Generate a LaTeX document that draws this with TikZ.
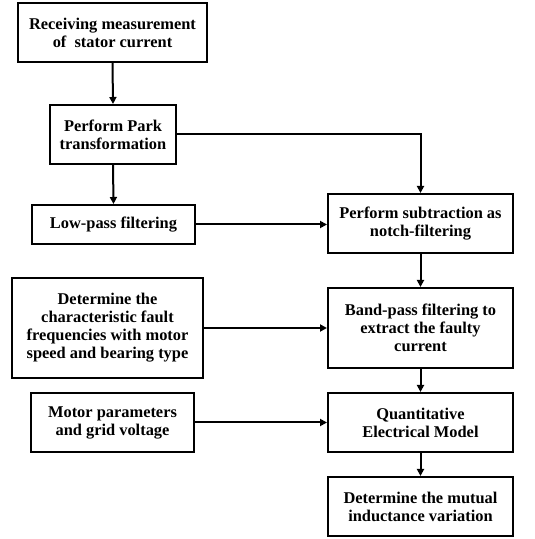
\documentclass[tikz,border=0pt]{standalone}
\usepackage{fontspec}
\setmainfont{Liberation Serif}
\usetikzlibrary{arrows.meta}

\tikzset{
  stepbox/.style={draw=black, line width=2pt, align=center, inner sep=2pt,
    font=\bfseries\fontsize{16.4pt}{18pt}\selectfont},
  flow/.style={line width=2pt, -{Triangle[length=7pt,width=7pt]}}
}

\begin{document}
\begin{tikzpicture}[x=1pt,y=1pt]
               \useasboundingbox (0,0) rectangle (535,539);
               % measurement box
               \node [stepbox,minimum width=189pt,minimum height=59pt] (meas) at (112.5,506.5) {Receiving measurement\\of~ stator current};
               % park box
               \node [stepbox,minimum width=126pt,minimum height=59pt] (park) at (113,404.5) {Perform Park\\transformation};
               % low-pass box
               \node [stepbox,minimum width=163pt,minimum height=39pt] (lowpass) at (113.5,314.5) {Low-pass filtering};
               % subtraction box
               \node [stepbox,minimum width=185pt,minimum height=59pt] (notch) at (420.5,315.5) {Perform subtraction as\\notch-filtering};
               % fault frequency box
               \node [stepbox,minimum width=191pt,minimum height=100pt] (faultfreq) at (107.5,211) {Determine the\\characteristic fault\\frequencies with motor\\speed and bearing type};
               % band-pass box
               \node [stepbox,minimum width=185pt,minimum height=80pt] (bandpass) at (420.5,211) {Band-pass filtering to\\extract the faulty\\current};
               % motor parameter box
               \node [stepbox,minimum width=163pt,minimum height=59pt] (motorpar) at (112.5,116.5) {Motor parameters\\and grid voltage};
               % model box
               \node [stepbox,minimum width=185pt,minimum height=59pt] (model) at (420.5,116.5) {Quantitative\\Electrical Model};
               % mutual inductance box
               \node [stepbox,minimum width=185pt,minimum height=59pt] (mutual) at (420.5,32.5) {Determine the mutual\\inductance variation};
               % arrows left column
               \draw [flow] (meas.south) -- (park.north);
               \draw [flow] (park.south) -- (lowpass.north);
               % arrows across
               \draw [flow] (park.east) -| (notch.north);
               \draw [flow] (lowpass.east) -- (lowpass.east -| notch.west);
               \draw [flow] (faultfreq.east) -- (bandpass.west);
               \draw [flow] (motorpar.east) -- (model.west);
               % arrows right column
               \draw [flow] (notch.south) -- (bandpass.north);
               \draw [flow] (bandpass.south) -- (model.north);
               \draw [flow] (model.south) -- (mutual.north);
\end{tikzpicture}
\end{document}
